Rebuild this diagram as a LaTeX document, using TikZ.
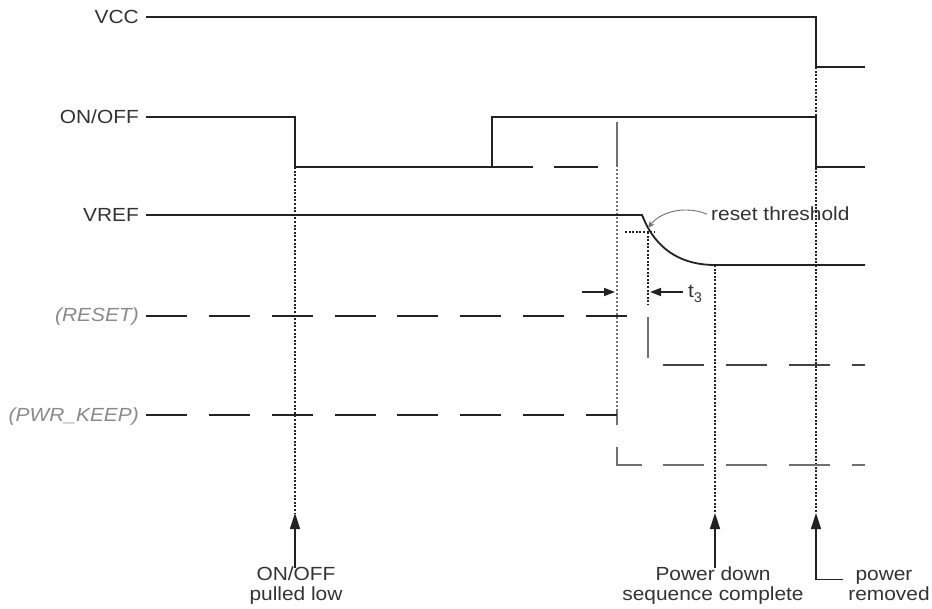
\documentclass[tikz,border=0pt]{standalone}
\usepackage{fontspec}
\setmainfont{Liberation Sans}
\usetikzlibrary{arrows.meta}
\definecolor{sigc}{HTML}{222222}
\definecolor{txtc}{HTML}{333333}
\definecolor{grayt}{HTML}{8A8A8A}
\definecolor{grayl}{HTML}{707070}
\newcommand\hstr[1]{\scalebox{1.1}[1]{#1}}
\begin{document}
\begin{tikzpicture}[x=1pt,y=-1pt,
  sig/.style={line width=1.8pt, draw=sigc},
  dsig/.style={sig, dash pattern=on 41pt off 21.86pt},
  gsig/.style={line width=2pt, draw=grayl},
  vdot/.style={line width=2pt, dash pattern=on 2pt off 1.6pt, draw=sigc},
  gdot/.style={line width=2.2pt, dash pattern=on 2pt off 2pt, draw=grayl},
  lbl/.style={font=\fontsize{19}{21}\selectfont, text=txtc, inner sep=0pt},
  ilbl/.style={font=\fontsize{19}{21}\selectfont\itshape, text=grayt, inner sep=0pt},
  uparr/.style={line width=1.5pt, draw=sigc, -{Triangle[length=16pt,width=10pt]}},
  tarr/.style={line width=1.5pt, draw=sigc, -{Triangle[length=11pt,width=8pt]}},
  thin/.style={line width=0.9pt, draw=grayl, -{Stealth[length=7pt,width=6pt]}}
]
\useasboundingbox (0,0) rectangle (932,609);
\fill[white] (0,0) rectangle (932,609);

% signal names
\node[lbl, anchor=base east] (vcc) at (139,23.5) {\hstr{VCC}};
\node[lbl, anchor=base east] (onoff) at (139,123.5) {\hstr{ON/OFF}};
\node[lbl, anchor=base east] (vref) at (139,221.5) {\hstr{VREF}};
\node[ilbl, anchor=base east] (reset) at (139,321.5) {\hstr{(RESET)}};
\node[ilbl, anchor=base east] (pwr) at (139,421.5) {\hstr{(PWR\_KEEP)}};

% arrow targets
\coordinate (a1) at (295,513);
\coordinate (a2) at (715,513);
\coordinate (a3) at (816,513);

% vertical dotted marker lines
\draw[vdot] (295,167) -- (a1);
\draw[vdot] (816,67) -- (a3);
\draw[vdot] (715,265) -- (a2);
\draw[vdot] (648,232) -- (648,305);
\draw[gdot] (617,165) -- (617,410);
\draw[gsig] (617,122) -- (617,165);
\draw[gsig] (617,410) -- (617,425);

% VCC
\draw[sig] (146,17) -- (816,17) -- (816,67) -- (865,67);
% ON/OFF
\draw[sig] (146,117) -- (295,117) -- (295,167) -- (492,167) -- (492,117) -- (816,117) -- (816,167) -- (865,167);
\draw[sig] (492,167) -- (533,167);
\draw[sig] (554,167) -- (598,167);
% VREF
\draw[sig] (146,215) -- (642,215) -- (646,224) .. controls (660,252) and (684,265) .. (715,265) -- (865,265);
\draw[vdot] (625,232) -- (655,232);
% RESET
\draw[dsig] (146,316) -- (628,316);
\draw[gsig] (648,317) -- (648,358);
\draw[dsig, draw=sigc!85!white] (663,365) -- (865,365);
% PWR_KEEP
\draw[dsig] (146,415) -- (617,415);
\draw[gsig] (617,447) -- (617,465) -- (642,465);
\draw[dsig, draw=grayl] (663,465) -- (865,465);

% reset threshold
\node[lbl, anchor=base west] (rt) at (711,221) {\hstr{reset threshold}};
\draw[thin] ([xshift=-4pt]rt.west) .. controls (688,206) and (662,210) .. (648,228);

% t3
\coordinate (t3a) at (615,292);
\coordinate (t3b) at (650,292);
\draw[tarr] (582,292) -- (t3a);
\draw[tarr] (683,292) -- (t3b);
\node[lbl, anchor=base west] (t3) at (688,298) {\hstr{t}\raisebox{-5pt}{\fontsize{14}{14}\selectfont 3}};

% bottom annotations
\node[lbl, anchor=base] (pl1) at (296,580) {\hstr{ON/OFF}};
\node[lbl, anchor=base] (pl2) at (296,600) {\hstr{pulled low}};
\draw[uparr] ([yshift=-2pt]a1 |- pl1.north) -- (a1);

\node[lbl, anchor=base] (pd1) at (713,580) {\hstr{Power down}};
\node[lbl, anchor=base] (pd2) at (713,600) {\hstr{sequence complete}};
\draw[uparr] ([yshift=-2pt]a2 |- pd1.north) -- (a2);

\node[lbl, anchor=base] (pr1) at (884,580) {\hstr{power}};
\node[lbl, anchor=base] (pr2) at (889,600) {\hstr{removed}};
\draw[uparr] ([xshift=-12pt,yshift=-2pt]pr1.mid west) -| (a3);
\end{tikzpicture}
\end{document}
